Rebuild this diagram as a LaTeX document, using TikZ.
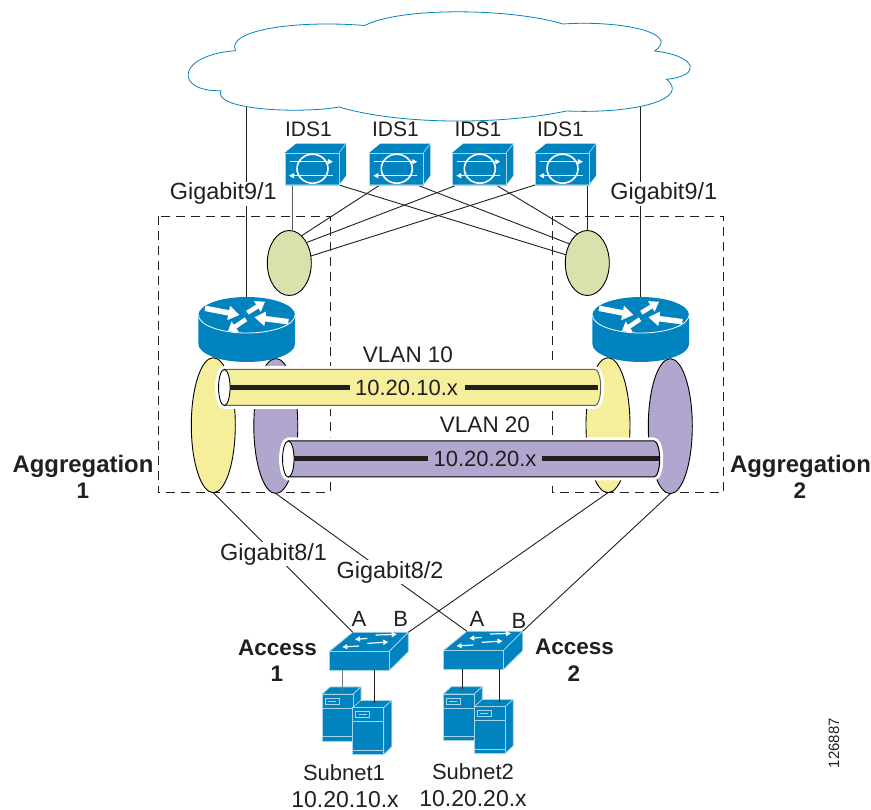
\documentclass[tikz,border=0pt]{standalone}
\usepackage{fontspec}
\setmainfont{Liberation Sans}
\usetikzlibrary{shapes.geometric,arrows.meta}
\definecolor{cblue}{HTML}{0083BE}
\definecolor{cedge}{HTML}{A6D5EA}
\definecolor{cgreen}{HTML}{D9E1AC}
\definecolor{cyel}{HTML}{F5EE9B}
\definecolor{cpur}{HTML}{B0A6CE}
\definecolor{ctxt}{HTML}{231F20}
\tikzset{
  lnk/.style={draw=ctxt,line width=0.9pt},
  dashbox/.style={draw=ctxt,line width=0.9pt,dash pattern=on 9pt off 6pt},
  lbl/.style={font=\fontsize{22}{24}\selectfont,text=ctxt,inner sep=0pt,anchor=base},
  lblb/.style={lbl,font=\fontsize{22.5}{24}\selectfont},
  lbli/.style={lbl,font=\fontsize{21}{24}\selectfont},
  lbls/.style={lbl,font=\fontsize{23}{24}\selectfont},
  lblw/.style={lbl,font=\fontsize{23.4}{24}\selectfont,fill=white,inner sep=1pt},
  blbl/.style={font=\fontsize{22.5}{24}\selectfont\bfseries,text=ctxt,inner sep=0pt,anchor=base},
  blblg/.style={blbl,font=\fontsize{23.9}{24}\selectfont\bfseries},
  oval/.style={ellipse,draw=black,line width=0.9pt,inner sep=0pt,outer sep=0pt},
  small/.style={oval,minimum width=44pt,minimum height=65pt,fill=cgreen},
  tall/.style={oval,minimum width=44pt,minimum height=135pt},
  bluef/.style={fill=cblue,draw=cedge,line width=0.7pt,line join=round},
  rarrow/.style={draw=white,line width=5.5pt,-{Triangle[length=11pt,width=14pt]}},
  rarrowb/.style={draw=white,line width=4.5pt,-{Triangle[length=9pt,width=12pt]}},
  sarrow/.style={draw=white,line width=1.2pt,-{Triangle[length=5pt,width=5pt]}},
  tubeend/.style={ellipse,draw=black,fill=white,line width=0.9pt,inner sep=0pt,outer sep=0pt,minimum width=11.5pt,minimum height=36pt},
  core/.style={draw=ctxt,line width=5pt}
}
\newcommand{\idsunit}[3]{%
  \begin{scope}[shift={(#2,#3)}]
    \fill[cblue] (0,0) -- (11,-9) -- (61,-9) -- (61,23) -- (54,32) -- (0,32) -- cycle;
    \draw[cedge,line width=0.7pt] (54,0) -- (61,-9);
    \node[inner sep=0pt,minimum width=54pt,minimum height=32pt,anchor=north west,draw=cedge,line width=0.7pt] (#1) at (0,0) {};
    \draw[white,line width=1.6pt] (27.5,16) ellipse [x radius=15.5pt,y radius=14.5pt];
    \draw[sarrow] (5,9) -- (48,9);
    \draw[sarrow] (48,23) -- (4,23);
  \end{scope}}
\newcommand{\routerunit}[3]{%
  \begin{scope}[shift={(#2,#3)}]
    \fill[cblue] (-48.3,0) -- (-48.3,29) arc[start angle=180,end angle=360,x radius=48.3pt,y radius=18pt] -- (48.3,0) -- cycle;
    \node[ellipse,fill=cblue,inner sep=0pt,outer sep=0pt,minimum width=96.6pt,minimum height=36pt] (#1) at (0,0) {};
    \draw[white,line width=0.8pt] (-48.3,0) arc[start angle=180,end angle=360,x radius=48.3pt,y radius=18pt];
    \draw[rarrow] (-41.7,-6.7) -- (-7.3,0);
    \draw[rarrow] (41.7,6.7) -- (7.7,2.3);
    \draw[rarrowb] (0.7,-2.3) -- (18.3,-13.3);
    \draw[rarrowb] (-0.7,4.3) -- (-19,16.7);
  \end{scope}}
\newcommand{\switchunit}[3]{%
  \begin{scope}[shift={(#2,#3)}]
    \path[bluef] (0,0) -- (23.7,-19.4) -- (79.3,-19.4) -- (60,0) -- cycle;
    \path[bluef] (60,0) -- (79.3,-19.4) -- (79.3,0) -- (60,19) -- cycle;
    \node[inner sep=0pt,outer sep=0pt,anchor=north west,minimum width=60pt,minimum height=19pt,bluef] (#1) at (0,0) {};
    \coordinate (#1a) at (23.7,-19.4);
    \coordinate (#1b) at (79.3,-19.4);
    \draw[sarrow] (46.7,-16.7) -- (67.7,-17.3);
    \draw[sarrow] (38.3,-13.3) -- (26,-12.3);
    \draw[sarrow] (38.3,-8.3) -- (59.3,-9.7);
    \draw[sarrow] (30,-5.7) -- (13.3,-4.7);
  \end{scope}}
\newcommand{\serverunit}[3]{%
  \begin{scope}[shift={(#2,#3)}]
    \path[bluef] (0,0) -- (8,-7.3) -- (39,-7.3) -- (31,0) -- cycle;
    \path[bluef] (31,0) -- (39,-7.3) -- (39,39) -- (31,46.7) -- cycle;
    \node[inner sep=0pt,outer sep=0pt,anchor=north west,minimum width=31pt,minimum height=46.7pt,bluef] (#1) at (0,0) {};
    \draw[cedge,line width=0.8pt] (0,14) -- (31,14) (0,42.5) -- (31,42.5);
    \draw[cedge,line width=0.8pt] (3,4) rectangle (17,10);
    \draw[cedge,line width=0.8pt] (6,7) -- (14,7);
  \end{scope}}
\begin{document}
\begin{tikzpicture}[x=1pt,y=-1pt]
\useasboundingbox[fill=white] (0,0) rectangle (871,810);
% named line ends
\coordinate (cloudL) at (246.7,100);
\coordinate (cloudR) at (640.7,100);
\coordinate (ids1a) at (292,185);
\coordinate (ids1b) at (339,185);
\coordinate (ids2a) at (380,185);
\coordinate (ids2b) at (417,185);
\coordinate (ids3a) at (457,185);
\coordinate (ids3b) at (496,185);
\coordinate (ids4a) at (535,185);
\coordinate (ids4b) at (587.3,185);
\coordinate (sw1p) at (342,670);
\coordinate (sw1q) at (374.3,670);
\coordinate (sw2p) at (462.3,669);
\coordinate (sw2q) at (499.3,669);
\coordinate (srv1t) at (342,690);
\coordinate (srv2t) at (374.3,703);
\coordinate (srv3t) at (462.3,689);
\coordinate (srv4t) at (499.3,702);
% dashed groups
\draw[dashbox] (158,216) rectangle (330,492.7);
\draw[dashbox] (552,216) rectangle (723.7,492.7);
% ovals
\node[small] (gl) at (289.3,263) {};
\node[small] (gr) at (587.3,263) {};
\node[tall,fill=cyel] (yl) at (213.3,425.2) {};
\node[tall,fill=cpur] (pl) at (275.8,426) {};
\node[tall,fill=cyel] (yr) at (608,425.2) {};
\node[tall,fill=cpur] (pr) at (670.3,426.2) {};
% routers
\routerunit{rl}{246.7}{315}
\routerunit{rr}{640.7}{315}
% uplinks
\draw[lnk] (cloudL) -- (rl.north);
\draw[lnk] (cloudR) -- (rr.north);
% cloud
\draw[cblue,line width=0.8pt,line join=round,fill=white]
  (235.5,50.7) .. controls (226,30) and (295,20) .. (364.8,25.5)
  .. controls (400,7) and (510,8) .. (563,24)
  .. controls (620,20) and (682,33) .. (654.5,51)
  .. controls (698,56) and (702,76) .. (666.5,79.3)
  .. controls (690,98) and (640,114) .. (566.5,111)
  .. controls (500,125) and (400,125) .. (339,107)
  .. controls (300,114) and (212,110) .. (221,90.7)
  .. controls (174,92) and (176,55) .. (235.5,50.7) -- cycle;
% IDS links
\draw[lnk,draw=ctxt!75] (ids1a) -- (gl.north -| ids1a);
\draw[lnk] (ids2a) -- (gl.66);
\draw[lnk] (ids3a) -- (gl.50);
\draw[lnk] (ids4a) -- (gl.18);
\draw[lnk] (ids1b) -- (gr.159);
\draw[lnk] (ids2b) -- (gr.133);
\draw[lnk] (ids3b) -- (gr.109);
\draw[lnk] (ids4b) -- (gr.north);
% IDS
\idsunit{ids1}{285}{152.7}
\idsunit{ids2}{369.3}{152.7}
\idsunit{ids3}{452.3}{152.7}
\idsunit{ids4}{535}{152.7}
% tube VLAN 10
\path[draw=white,line width=7pt,line join=round] (224.3,369.5) -- (595,369.5) arc[start angle=90,end angle=-90,x radius=5.7pt,y radius=18pt] -- (224.3,405.5) arc[start angle=270,end angle=90,x radius=5.7pt,y radius=18pt] -- cycle;
\path[fill=cyel,draw=ctxt!70,line width=1pt] (224.3,369.5) -- (595,369.5) arc[start angle=90,end angle=-90,x radius=5.7pt,y radius=18pt] -- (224.3,405.5) -- cycle;
\node[tubeend] (t1) at (224.3,387.5) {};
\coordinate (t1e) at (598,387.5);
\draw[core] (t1.east) -- (350,387.5);
\draw[core] (465,387.5) -- (t1e);
\node[lbl] (t1txt) at (406.5,395.5) {10.20.10.x};
% tube VLAN 20
\path[draw=white,line width=7pt,line join=round] (288.3,441) -- (654,441) arc[start angle=90,end angle=-90,x radius=5.7pt,y radius=18pt] -- (288.3,477) arc[start angle=270,end angle=90,x radius=5.7pt,y radius=18pt] -- cycle;
\path[fill=cpur,draw=black,line width=1pt] (288.3,441) -- (654,441) arc[start angle=90,end angle=-90,x radius=5.7pt,y radius=18pt] -- (288.3,477) -- cycle;
\node[tubeend] (t2) at (288.3,459) {};
\coordinate (t2e) at (659,459);
\draw[core] (t2.east) -- (428,459);
\draw[core] (541.7,459) -- (t2e);
\node[lbl] (t2txt) at (485,466.5) {10.20.20.x};
\node[lblb] (v10) at (408,362.7) {VLAN 10};
\node[lblb] (v20) at (485,433) {VLAN 20};
% switches and servers
\switchunit{swa}{329}{651.7}
\switchunit{swb}{443.3}{650.7}
\serverunit{srv1}{322}{694.2}
\serverunit{srv2}{352.8}{707.7}
\serverunit{srv3}{443.3}{694}
\serverunit{srv4}{474.2}{706.7}
\draw[lnk,draw=ctxt!60] (sw1p) -- (srv1t);
\draw[lnk] (sw1q) -- (srv2t);
\draw[lnk] (sw2p) -- (srv3t);
\draw[lnk] (sw2q) -- (srv4t);
% downlinks
\draw[lnk] (yl.south) -- (swaa);
\draw[lnk] (pl.south) -- (swba);
\draw[lnk] (yr.south) -- (swab);
\draw[lnk] (pr.south) -- (swbb);
% labels
\node[lbli] (tids1) at (308.5,137) {IDS1};
\node[lbli] (tids2) at (395.5,137) {IDS1};
\node[lbli] (tids3) at (478,137) {IDS1};
\node[lbli] (tids4) at (560.5,137) {IDS1};
\node[lblw] (g91l) at (223.3,200) {Gigabit9/1};
\node[lblw] (g91r) at (663.7,200) {Gigabit9/1};
\node[lblw] (g81) at (273.5,560) {Gigabit8/1};
\node[lblw] (g82) at (390,578) {Gigabit8/2};
\node[lbl] (la1) at (359,626) {A};
\node[lbl] (lb1) at (400.7,626) {B};
\node[lbl] (la2) at (477,626) {A};
\node[lbl] (lb2) at (519,628) {B};
\node[blblg] (ag1) at (83,472) {Aggregation};
\node[blbl] (ag1n) at (83,498) {1};
\node[blblg] (ag2) at (800.5,472) {Aggregation};
\node[blbl] (ag2n) at (800,498) {2};
\node[blbl] (ac1) at (277.5,655) {Access};
\node[blbl] (ac1n) at (277,681) {1};
\node[blbl] (ac2) at (574.5,654) {Access};
\node[blbl] (ac2n) at (574,681) {2};
\node[lbl] (s1) at (344,780) {Subnet1};
\node[lbls] (s1ip) at (345,807) {10.20.10.x};
\node[lbl] (s2) at (473,779) {Subnet2};
\node[lbls] (s2ip) at (473,806) {10.20.20.x};
\node[lbl,font=\fontsize{15}{16}\selectfont,rotate=90] (fig) at (839,743) {126887};
\end{tikzpicture}
\end{document}
